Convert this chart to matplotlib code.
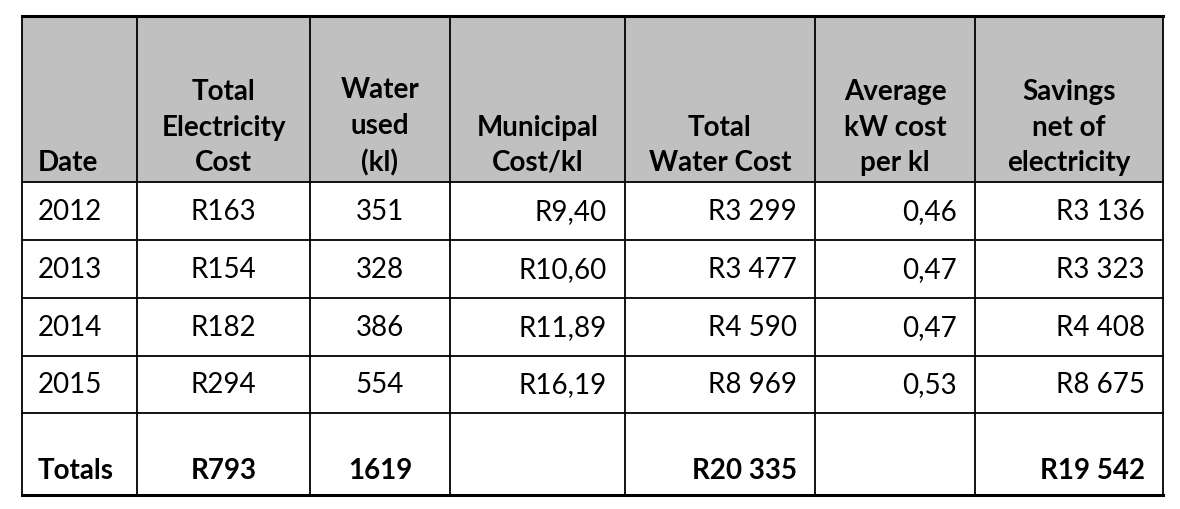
import matplotlib
matplotlib.use("Agg")
import matplotlib.pyplot as plt

headers = ["Date", "Total\nElectricity\nCost", "Water\nused\n(kl)", "Municipal\nCost/kl",
           "Total\nWater Cost", "Average\nkW cost\nper kl", "Savings\nnet of\nelectricity"]
dates = ["2012", "2013", "2014", "2015"]
elec_cost = ["R163", "R154", "R182", "R294"]
water_used = ["351", "328", "386", "554"]
muni_cost = ["R9,40", "R10,60", "R11,89", "R16,19"]
water_cost = ["R3 299", "R3 477", "R4 590", "R8 969"]
kw_cost = ["0,46", "0,47", "0,47", "0,53"]
savings = ["R3 136", "R3 323", "R4 408", "R8 675"]
totals = ["Totals", "R793", "1619", "", "R20 335", "", "R19 542"]

cols = [22, 137, 310, 450, 625, 815, 975, 1163]
rows = [17, 183, 241, 299, 357, 414, 496]
aligns = ["left", "center", "center", "right", "right", "right", "right"]

fig = plt.figure(figsize=(11.8, 5.1), dpi=100)
ax = fig.add_axes([0, 0, 1, 1])
ax.set_xlim(0, 1180); ax.set_ylim(510, 0); ax.axis("off")
font = "Lato"
fs = 20

ax.add_patch(plt.Rectangle((cols[0], rows[0]), cols[-1]-cols[0], rows[1]-rows[0],
                           facecolor="#c0c0c0", edgecolor="none", zorder=0))
for x in cols:
    ax.plot([x, x], [rows[0], rows[-1]], color="black", lw=1.3)
for i, y in enumerate(rows):
    ax.plot([cols[0], cols[-1]], [y, y], color="black", lw=2.2 if i in (0, len(rows)-1) else 1.3)

def xpos(j, a):
    if a == "left":
        return cols[j] + 16
    if a == "right":
        return cols[j+1] - 18
    return (cols[j] + cols[j+1]) / 2

for j, h in enumerate(headers):
    a = "left" if j == 0 else "center"
    ax.text(xpos(j, a), 176, h, ha=a, va="bottom", fontsize=fs, fontweight="bold",
            family=font, linespacing=1.45)

data = list(zip(dates, elec_cost, water_used, muni_cost, water_cost, kw_cost, savings))
for i, r in enumerate(data):
    yc = (rows[i+1] + rows[i+2]) / 2
    for j, v in enumerate(r):
        ax.text(xpos(j, aligns[j]), yc, v, ha=aligns[j], va="center", fontsize=fs, family=font)

for j, v in enumerate(totals):
    ax.text(xpos(j, aligns[j]), 471, v, ha=aligns[j], va="center", fontsize=fs,
            fontweight="bold", family=font)

fig.savefig("out.png", dpi=100, facecolor="white")
